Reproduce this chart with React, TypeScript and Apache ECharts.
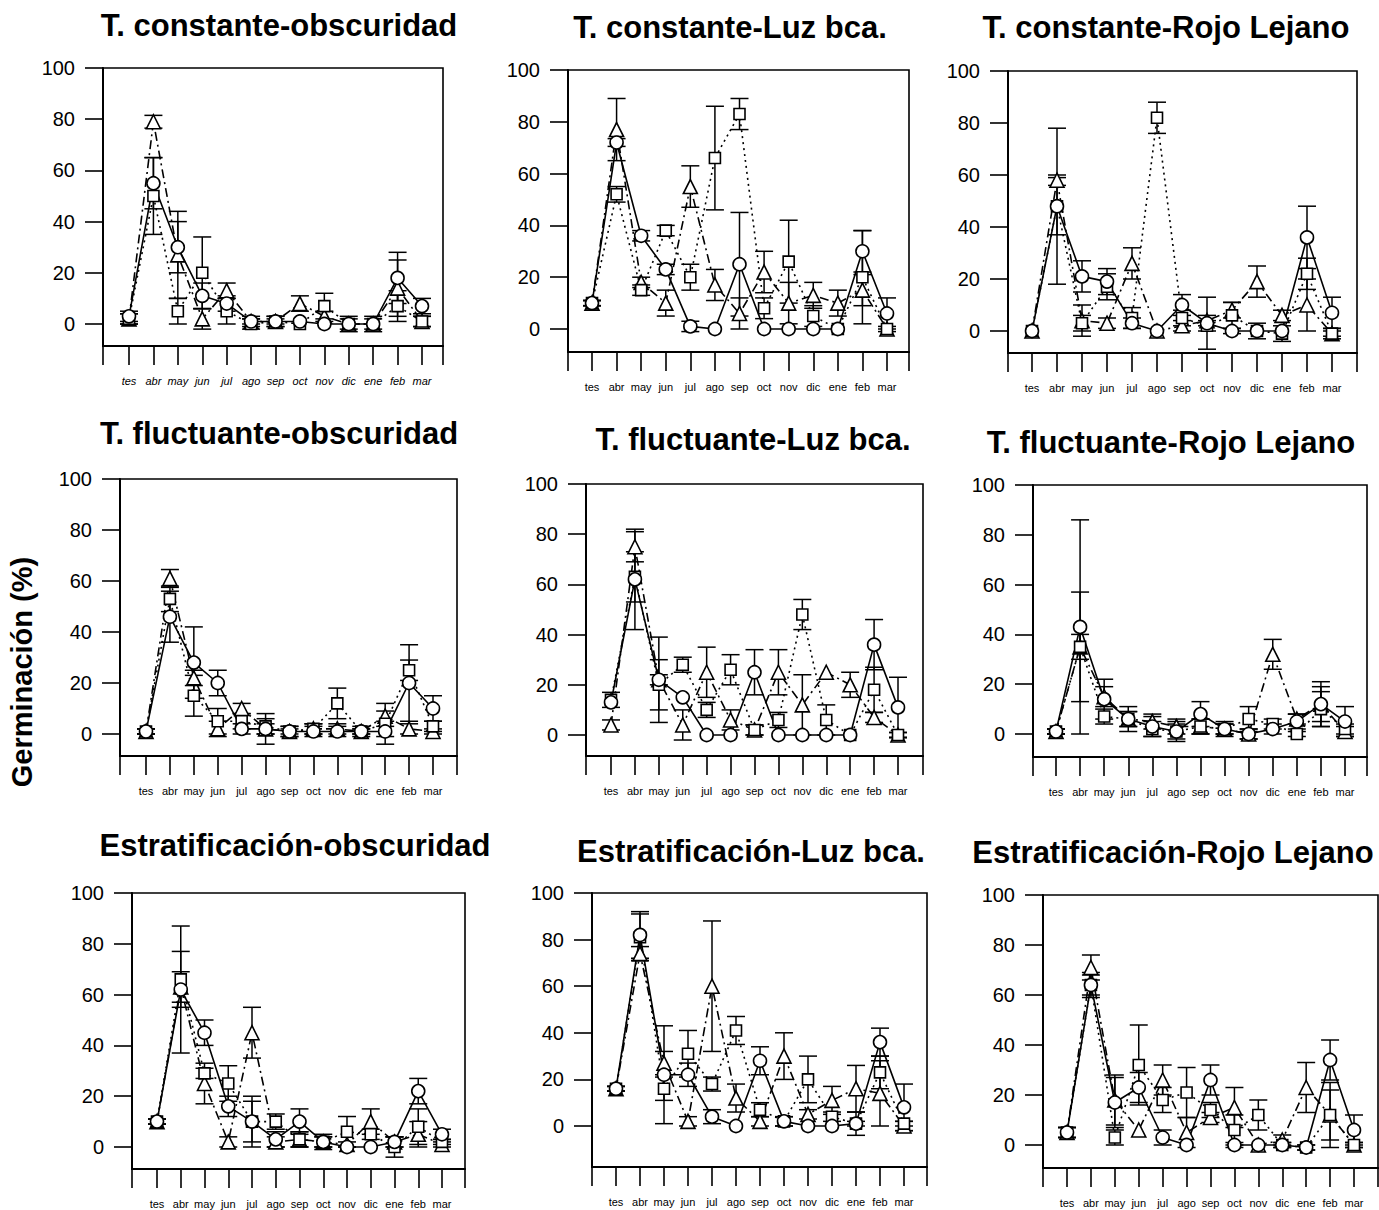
import React, { useEffect, useRef } from 'react';
import * as echarts from 'echarts';

const W = 1379;
const H = 1210;

const months = ['tes', 'abr', 'may', 'jun', 'jul', 'ago', 'sep', 'oct', 'nov', 'dic', 'ene', 'feb', 'mar'];
const yTicks = [0, 20, 40, 60, 80, 100];

const titles = [
  'T. constante-obscuridad',
  'T. constante-Luz bca.',
  'T. constante-Rojo Lejano',
  'T. fluctuante-obscuridad',
  'T. fluctuante-Luz bca.',
  'T. fluctuante-Rojo Lejano',
  'Estratificación-obscuridad',
  'Estratificación-Luz bca.',
  'Estratificación-Rojo Lejano',
];
const yTitle = 'Germinación (%)';

// Panel 1: T. constante-obscuridad
const cteOscCircle = [3, 55, 30, 11, 8, 1, 1, 1, 0, 0, 0, 18, 7];
const cteOscCircleErr = [2, 10, 10, 5, 3, 1, 1, 0, 0, 0, 0, 10, 3];
const cteOscSquare = [2, 50, 5, 20, 5, 0, 1, 0, 7, 0, 0, 7, 1];
const cteOscSquareErr = [2, 15, 5, 14, 5, 2, 2, 0, 5, 2, 2, 6, 2];
const cteOscTri = [2, 79, 27, 2, 13, 1, 1, 8, 3, 0, 0, 14, 1];
const cteOscTriErr = [2, 2.5, 17, 4, 3, 2, 2, 3, 2, 3, 3, 11, 2];

// Panel 2: T. constante-Luz bca.
const cteLuzCircle = [10, 72, 36, 23, 1, 0, 25, 0, 0, 0, 0, 30, 6];
const cteLuzCircleErr = [1, 1.5, 2, 2, 2, 0, 20, 0, 0, 0, 0, 8, 6];
const cteLuzSquare = [10, 52, 15, 38, 20, 66, 83, 8, 26, 5, 0, 20, 0];
const cteLuzSquareErr = [1, 3, 2, 2, 5, 20, 6, 4, 16, 4, 0, 18, 0];
const cteLuzTri = [10, 77, 18, 10, 55, 17, 6, 22, 10, 13, 10, 15, 0];
const cteLuzTriErr = [1, 12, 2, 5, 8, 6, 6, 8, 8, 5, 5, 6, 1];

// Panel 3: T. constante-Rojo Lejano
const cteRojoCircle = [0, 48, 21, 19, 3, 0, 10, 3, 0, 0, 0, 36, 7];
const cteRojoCircleErr = [0, 30, 6, 5, 2, 0, 4, 10, 1, 0, 0, 12, 6];
const cteRojoSquare = [0, 48, 3, 17, 5, 82, 5, 2, 6, 0, -1, 22, -1];
const cteRojoSquareErr = [0, 11, 3, 5, 4, 6, 3, 2, 5, 3, 3, 6, 1];
const cteRojoTri = [0, 58, 4, 3, 26, 0, 2, 4, 8, 19, 6, 10, -1];
const cteRojoTriErr = [0, 2, 6, 2, 6, 0, 2, 2, 3, 6, 2, 10, 2];

// Panel 4: T. fluctuante-obscuridad
const fluOscCircle = [1, 46, 28, 20, 2, 2, 1, 1, 1, 1, 1, 20, 10];
const fluOscCircleErr = [1, 10, 14, 5, 2, 6, 1, 2, 2, 1, 2, 15, 5];
const fluOscSquare = [1, 53, 15, 5, 5, 3, 1, 2, 12, 1, 4, 25, 3];
const fluOscSquareErr = [1, 5, 8, 5, 3, 3, 2, 2, 6, 1, 8, 4, 2];
const fluOscTri = [1, 61, 22, 2, 10, 2, 1, 2, 2, 1, 7, 2, 1];
const fluOscTriErr = [1, 3.5, 3, 3, 2, 2, 2, 2, 2, 2, 2, 2, 1];

// Panel 5: T. fluctuante-Luz bca.
const fluLuzCircle = [13, 62, 22, 15, 0, 0, 25, 0, 0, 0, 0, 36, 11];
const fluLuzCircleErr = [0, 20, 17, 0, 0, 0, 9, 0, 0, 0, 0, 10, 12];
const fluLuzSquare = [14, 63, 20, 28, 10, 26, 2, 6, 48, 6, 0, 18, 0];
const fluLuzSquareErr = [3, 10, 10, 3, 3, 6, 2, 3, 6, 6, 0, 9, 1];
const fluLuzTri = [4, 75, 22, 4, 25, 6, 2, 25, 12, 25, 20, 7, 0];
const fluLuzTriErr = [2, 6, 2, 6, 10, 4, 2, 9, 12, 0, 5, 2, 1];

// Panel 6: T. fluctuante-Rojo Lejano
const fluRojoCircle = [1, 43, 14, 6, 3, 1, 8, 2, 0, 2, 5, 12, 5];
const fluRojoCircleErr = [1, 43, 8, 5, 4, 4, 5, 3, 2, 2, 3, 9, 6];
const fluRojoSquare = [1, 35, 7, 6, 2, 1, 3, 2, 6, 4, 0, 10, 2];
const fluRojoSquareErr = [1, 22, 3, 3, 3, 3, 3, 2, 5, 2, 1, 7, 2];
const fluRojoTri = [1, 35, 15, 6, 5, 3, 3, 2, 0, 32, 6, 12, 1];
const fluRojoTriErr = [1, 5, 4, 3, 3, 3, 3, 2, 2, 6, 2, 7, 2];

// Panel 7: Estratificación-obscuridad
const estOscCircle = [10, 62, 45, 16, 10, 3, 10, 2, 0, 0, 2, 22, 5];
const estOscCircleErr = [1, 25, 5, 4, 8, 3, 5, 2, 0, 0, 2, 5, 2];
const estOscSquare = [10, 66, 29, 25, 10, 10, 3, 2, 6, 5, 0, 8, 2];
const estOscSquareErr = [1, 11, 2, 7, 10, 3, 3, 3, 6, 2, 4, 7, 1];
const estOscTri = [10, 63, 25, 2, 45, 2, 3, 2, 1, 10, 2, 5, 1];
const estOscTriErr = [1, 6, 8, 2, 10, 2, 3, 2, 1, 5, 2, 5, 1];

// Panel 8: Estratificación-Luz bca.
const estLuzCircle = [16, 82, 22, 22, 4, 0, 28, 2, 0, 0, 1, 36, 8];
const estLuzCircleErr = [1, 10, 21, 5, 3, 0, 6, 2, 0, 0, 1, 6, 10];
const estLuzSquare = [16, 81, 16, 31, 18, 41, 7, 2, 20, 4, 1, 23, 1];
const estLuzSquareErr = [1, 10, 5, 10, 3, 6, 3, 2, 10, 2, 5, 7, 1];
const estLuzTri = [16, 74, 27, 2, 60, 12, 2, 30, 5, 11, 16, 14, 0];
const estLuzTriErr = [1, 3, 5, 2, 28, 6, 2, 10, 2, 6, 10, 14, 2];

// Panel 9: Estratificación-Rojo Lejano
const estRojoCircle = [5, 64, 17, 23, 3, 0, 26, 0, 0, 0, -1, 34, 6];
const estRojoCircleErr = [2, 5, 10, 6, 3, 0, 6, 1, 0, 1, 1, 8, 6];
const estRojoSquare = [5, 64, 3, 32, 18, 21, 14, 6, 12, 0, -1, 12, 0];
const estRojoSquareErr = [2, 4, 3, 16, 5, 10, 3, 6, 6, 1, 1, 10, 1];
const estRojoTri = [5, 71, 18, 6, 26, 5, 11, 15, 0, 2, 23, 12, 0];
const estRojoTriErr = [2, 5, 10, 0, 6, 6, 2, 8, 0, 2, 10, 13, 1];

const panelData = [
  [cteOscCircle, cteOscCircleErr, cteOscSquare, cteOscSquareErr, cteOscTri, cteOscTriErr],
  [cteLuzCircle, cteLuzCircleErr, cteLuzSquare, cteLuzSquareErr, cteLuzTri, cteLuzTriErr],
  [cteRojoCircle, cteRojoCircleErr, cteRojoSquare, cteRojoSquareErr, cteRojoTri, cteRojoTriErr],
  [fluOscCircle, fluOscCircleErr, fluOscSquare, fluOscSquareErr, fluOscTri, fluOscTriErr],
  [fluLuzCircle, fluLuzCircleErr, fluLuzSquare, fluLuzSquareErr, fluLuzTri, fluLuzTriErr],
  [fluRojoCircle, fluRojoCircleErr, fluRojoSquare, fluRojoSquareErr, fluRojoTri, fluRojoTriErr],
  [estOscCircle, estOscCircleErr, estOscSquare, estOscSquareErr, estOscTri, estOscTriErr],
  [estLuzCircle, estLuzCircleErr, estLuzSquare, estLuzSquareErr, estLuzTri, estLuzTriErr],
  [estRojoCircle, estRojoCircleErr, estRojoSquare, estRojoSquareErr, estRojoTri, estRojoTriErr],
];

// Layout (pixels): plot box edges, y pixel of 100 and 0, x pixel of first/last month, title centre
const layouts = [
  { left: 103, right: 443, y100: 68, y0: 324, bottom: 346, tes: 129, mar: 422, tx: 279, ty: 25 },
  { left: 568, right: 909, y100: 70, y0: 329, bottom: 352, tes: 592, mar: 887, tx: 730, ty: 27 },
  { left: 1008, right: 1357, y100: 71, y0: 331, bottom: 353, tes: 1032, mar: 1332, tx: 1166, ty: 27 },
  { left: 120, right: 457, y100: 479, y0: 734, bottom: 756, tes: 146, mar: 433, tx: 279, ty: 433 },
  { left: 586, right: 923, y100: 484, y0: 735, bottom: 756, tes: 611, mar: 898, tx: 753, ty: 439 },
  { left: 1033, right: 1367, y100: 485, y0: 734, bottom: 757, tes: 1056, mar: 1345, tx: 1171, ty: 442 },
  { left: 132, right: 465, y100: 893, y0: 1147, bottom: 1169, tes: 157, mar: 442, tx: 295, ty: 845 },
  { left: 592, right: 927, y100: 893, y0: 1126, bottom: 1167, tes: 616, mar: 904, tx: 751, ty: 851 },
  { left: 1043, right: 1378, y100: 895, y0: 1145, bottom: 1168, tes: 1067, mar: 1354, tx: 1173, ty: 852 },
];

const FONT = '"Liberation Sans", Arial, Helvetica, sans-serif';

function errSeries(i: number, vals: number[], errs: number[]) {
  return {
    type: 'custom',
    xAxisIndex: i,
    yAxisIndex: i,
    silent: true,
    clip: false,
    z: 2,
    data: vals.map((v, k) => [k, v, errs[k]]),
    encode: { x: 0, y: 1 },
    renderItem: (params: any, api: any) => {
      const x = api.value(0);
      const v = api.value(1);
      const e = api.value(2);
      if (!e) return { type: 'group', children: [] };
      const top = api.coord([x, v + e]);
      const bot = api.coord([x, v - e]);
      const hw = 9;
      const st = { stroke: '#000', lineWidth: 1.5 };
      return {
        type: 'group',
        children: [
          { type: 'line', shape: { x1: top[0], y1: top[1], x2: bot[0], y2: bot[1] }, style: st },
          { type: 'line', shape: { x1: top[0] - hw, y1: top[1], x2: top[0] + hw, y2: top[1] }, style: st },
          { type: 'line', shape: { x1: bot[0] - hw, y1: bot[1], x2: bot[0] + hw, y2: bot[1] }, style: st },
        ],
      };
    },
  };
}

function lineSeries(i: number, vals: number[], symbol: string, size: number, dash: any) {
  return {
    type: 'line',
    xAxisIndex: i,
    yAxisIndex: i,
    silent: true,
    clip: false,
    z: 3,
    data: vals.map((v, k) => [k, v]),
    symbol,
    symbolSize: size,
    showSymbol: true,
    lineStyle: { color: '#000', width: 1.6, type: dash },
    itemStyle: { color: '#fff', borderColor: '#000', borderWidth: 1.6 },
  };
}

function buildOption() {
  const grid: any[] = [];
  const xAxis: any[] = [];
  const yAxis: any[] = [];
  const series: any[] = [];
  const graphic: any[] = [];

  panelData.forEach((d, i) => {
    const L = layouts[i];
    const sp = (L.mar - L.tes) / 12;
    const xmin = -(L.tes - L.left) / sp;
    const xmax = 12 + (L.right - L.mar) / sp;
    const ymin = -((L.bottom - L.y0) / (L.y0 - L.y100)) * 100;
    const idx = months.map((_, k) => k);

    grid.push({
      left: L.left,
      top: L.y100,
      width: L.right - L.left,
      height: L.bottom - L.y100,
      show: true,
      borderColor: '#000',
      borderWidth: 1.6,
      backgroundColor: 'transparent',
    });
    xAxis.push({
      type: 'value',
      gridIndex: i,
      min: xmin,
      max: xmax,
      axisLine: { show: true, onZero: false, lineStyle: { color: '#000', width: 2 } },
      axisTick: {
        show: true,
        inside: false,
        length: 19,
        customValues: [xmin, ...idx, xmax],
        lineStyle: { color: '#000', width: 1.6 },
      },
      axisLabel: {
        show: true,
        customValues: idx,
        formatter: (v: number) => months[Math.round(v)] ?? '',
        margin: 29,
        fontSize: 11,
        color: '#000',
        fontFamily: FONT,
        fontStyle: i === 0 ? 'italic' : 'normal',
      },
      splitLine: { show: false },
    });
    yAxis.push({
      type: 'value',
      gridIndex: i,
      min: ymin,
      max: 100,
      axisLine: { show: true, onZero: false, lineStyle: { color: '#000', width: 2 } },
      axisTick: {
        show: true,
        inside: false,
        length: 18,
        customValues: yTicks,
        lineStyle: { color: '#000', width: 1.6 },
      },
      axisLabel: {
        show: true,
        customValues: yTicks,
        margin: 28,
        fontSize: 20,
        color: '#000',
        fontFamily: FONT,
      },
      splitLine: { show: false },
    });

    const [c, ce, s, se, t, te] = d;
    series.push(errSeries(i, c, ce));
    series.push(errSeries(i, s, se));
    series.push(errSeries(i, t, te));
    series.push(lineSeries(i, t, 'triangle', 14, [9, 4, 2, 4]));
    series.push(lineSeries(i, s, 'rect', 11, [2, 4]));
    series.push(lineSeries(i, c, 'circle', 13, 'solid'));

    graphic.push({
      type: 'text',
      x: L.tx,
      y: L.ty,
      silent: true,
      style: {
        text: titles[i],
        font: `bold 31px ${FONT}`,
        fill: '#000',
        textAlign: 'center',
        textVerticalAlign: 'middle',
        align: 'center',
        verticalAlign: 'middle',
      },
    });
  });

  graphic.push({
    type: 'text',
    x: 22,
    y: 672,
    rotation: Math.PI / 2,
    silent: true,
    style: {
      text: yTitle,
      font: `bold 29px ${FONT}`,
      fill: '#000',
      textAlign: 'center',
      textVerticalAlign: 'middle',
      align: 'center',
      verticalAlign: 'middle',
    },
  });

  return {
    animation: false,
    backgroundColor: '#fff',
    grid,
    xAxis,
    yAxis,
    series,
    graphic,
  };
}

export default function App() {
  const ref = useRef<HTMLDivElement>(null);
  useEffect(() => {
    if (!ref.current) return;
    const chart = echarts.init(ref.current, undefined, { renderer: 'svg', width: W, height: H });
    chart.setOption(buildOption() as any);
    return () => chart.dispose();
  }, []);
  return (
    <div
      ref={ref}
      style={{ position: 'absolute', left: 0, top: 0, width: W, height: H, background: '#fff' }}
    />
  );
}
